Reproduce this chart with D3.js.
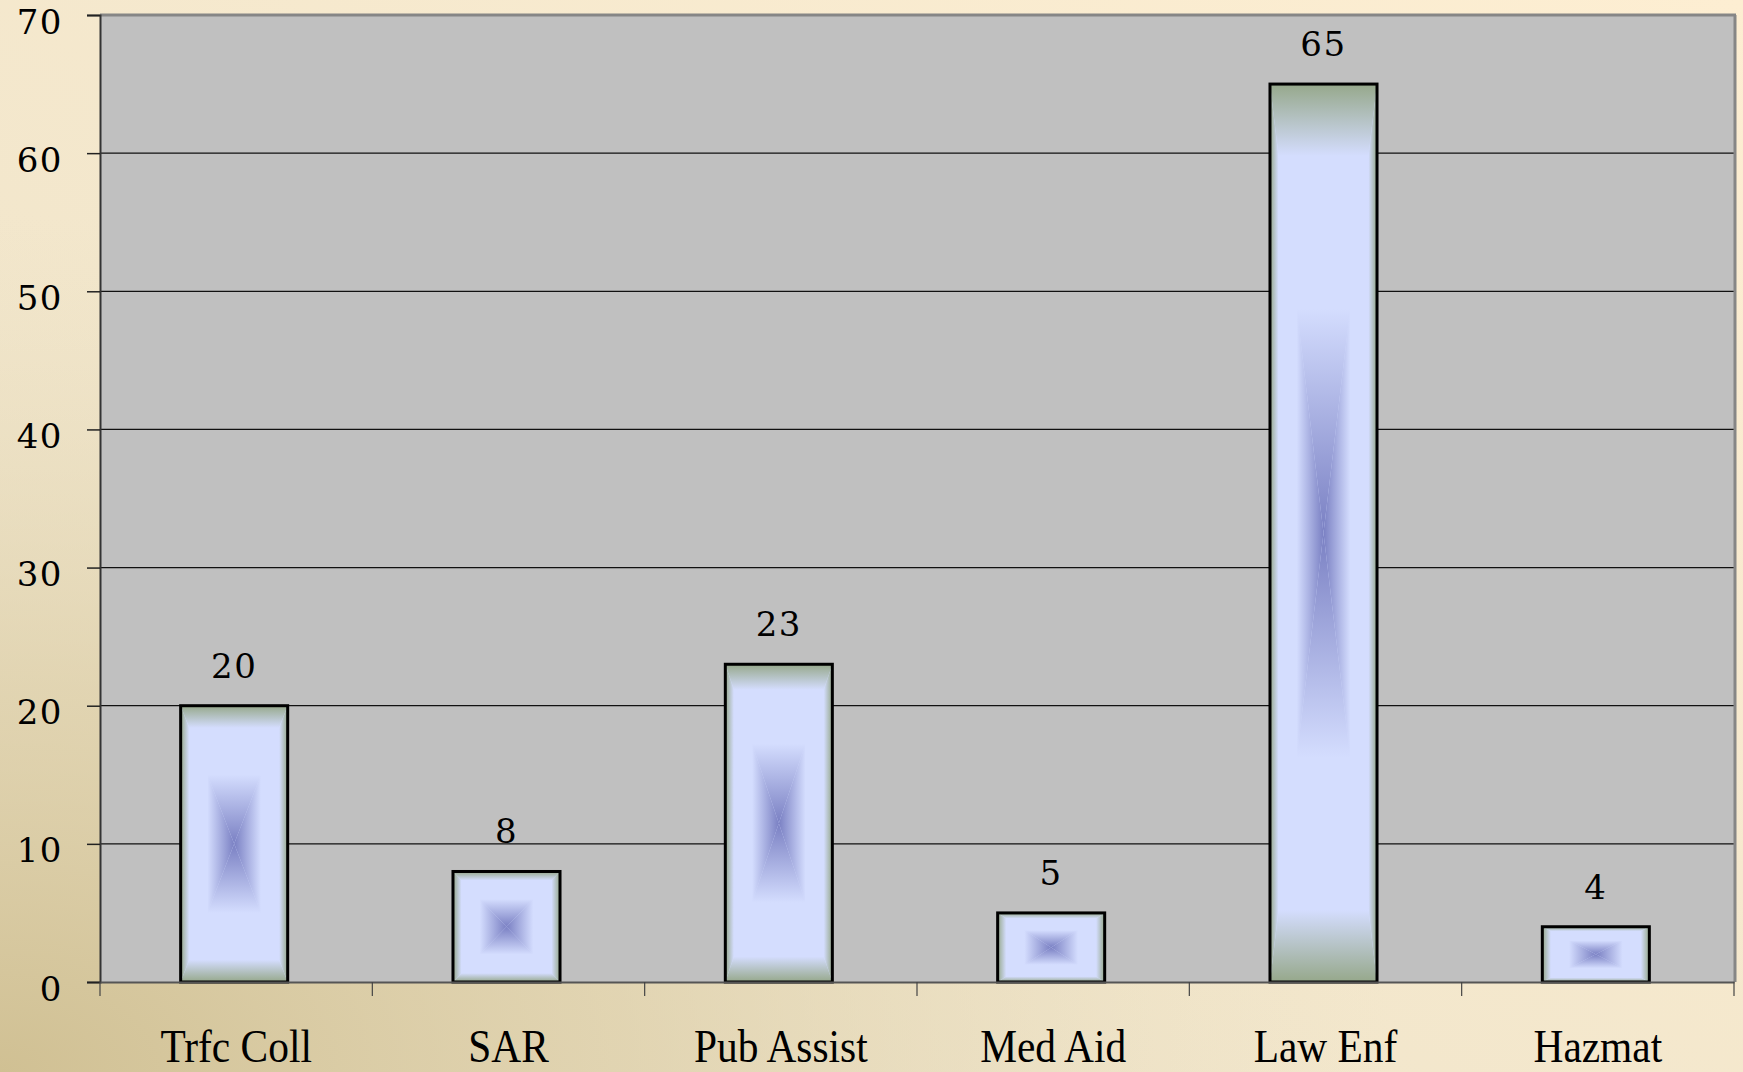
<!DOCTYPE html>
<html>
<head>
<meta charset="utf-8">
<script src="https://cdn.jsdelivr.net/npm/d3@7/dist/d3.min.js"></script>
<style>
  html, body { margin: 0; padding: 0; background: #f2ead5; }
  svg { display: block; }
</style>
</head>
<body>
<script>
const categories = ["Trfc Coll", "SAR", "Pub Assist", "Med Aid", "Law Enf", "Hazmat"];
const values = [20, 8, 23, 5, 65, 4];
const yTicks = [0, 10, 20, 30, 40, 50, 60, 70];

const W = 1743, H = 1072;
const plot = { left: 100, right: 1734, top: 15, bottom: 982 };

const svg = d3.select("body").append("svg").attr("width", W).attr("height", H);
const defs = svg.append("defs");

// Background gradients
const bgLin = defs.append("linearGradient").attr("id", "bgLin")
  .attr("x1", 0).attr("y1", 1).attr("x2", 1).attr("y2", 0);
bgLin.append("stop").attr("offset", 0).attr("stop-color", "#ece2c8");
bgLin.append("stop").attr("offset", 1).attr("stop-color", "#fdeed2");
const bgRad = defs.append("radialGradient").attr("id", "bgRad")
  .attr("cx", 0).attr("cy", 1).attr("r", 0.8).attr("fx", 0).attr("fy", 1);
bgRad.append("stop").attr("offset", 0).attr("stop-color", "#d0c093").attr("stop-opacity", 1);
bgRad.append("stop").attr("offset", 0.45).attr("stop-color", "#dacca5").attr("stop-opacity", 0.65);
bgRad.append("stop").attr("offset", 1).attr("stop-color", "#e6dcbf").attr("stop-opacity", 0);

svg.append("rect").attr("width", W).attr("height", H).attr("fill", "url(#bgLin)");
svg.append("rect").attr("width", W).attr("height", H).attr("fill", "url(#bgRad)");

// Bar "from center" rectangular gradient, built from 4 triangles
const stops = [
  [0, "#7a80c3"], [0.5, "#d4ddfe"], [0.84, "#d4ddfe"], [1, "#96a88b"]
];
const dirs = {
  gTop:    [0, 1, 0, 0],
  gBottom: [0, 0, 0, 1],
  gLeft:   [1, 0, 0, 0],
  gRight:  [0, 0, 1, 0]
};
Object.entries(dirs).forEach(([id, [x1, y1, x2, y2]]) => {
  const g = defs.append("linearGradient").attr("id", id)
    .attr("x1", x1).attr("y1", y1).attr("x2", x2).attr("y2", y2);
  stops.forEach(([o, c]) => g.append("stop").attr("offset", o).attr("stop-color", c));
});

// Scales
const slot = d3.scaleBand().domain(categories).range([plot.left, plot.right]).padding(0);
const barFrac = 0.393;
const barW = slot.bandwidth() * barFrac;
const barShift = -2;
const y = d3.scaleLinear().domain([0, 70]).range([plot.bottom, plot.top]);

// Plot background
svg.append("rect")
  .attr("x", plot.left).attr("y", y(70))
  .attr("width", plot.right - plot.left).attr("height", y(0) - y(70))
  .attr("fill", "#c0c0c0");

// Gridlines
svg.append("g").selectAll("line").data(yTicks.filter(d => d > 0 && d < 70)).join("line")
  .attr("x1", plot.left).attr("x2", plot.right)
  .attr("y1", d => y(d)).attr("y2", d => y(d))
  .attr("stroke", "#111").attr("stroke-width", 1.3);

// Top & right border (shadow-like)
svg.append("line").attr("x1", plot.left).attr("x2", plot.right + 2)
  .attr("y1", y(70)).attr("y2", y(70)).attr("stroke", "#868686").attr("stroke-width", 3);
svg.append("line").attr("x1", plot.right + 1).attr("x2", plot.right + 1)
  .attr("y1", y(70)).attr("y2", y(0)).attr("stroke", "#868686").attr("stroke-width", 3);

// Bars
const bars = svg.append("g").selectAll("g").data(categories.map((c, i) => ({ c, v: values[i] }))).join("g");
bars.each(function (d) {
  const g = d3.select(this);
  const x0 = slot(d.c) + (slot.bandwidth() - barW) / 2 + barShift;
  const x1 = x0 + barW;
  const y0 = y(d.v), y1 = y(0);
  const cx = (x0 + x1) / 2, cy = (y0 + y1) / 2;
  g.append("rect").attr("x", x0).attr("y", y0).attr("width", barW).attr("height", y1 - y0).attr("fill", "#d4ddfe");
  const tri = (pts, fill) => g.append("polygon")
    .attr("points", pts.map(p => p.join(",")).join(" "))
    .attr("fill", fill);
  tri([[x0, y1], [x1, y1], [cx, cy]], "url(#gBottom)");
  tri([[x0, y0], [x1, y0], [cx, cy]], "url(#gTop)");
  tri([[x0, y0], [x0, y1], [cx, cy]], "url(#gLeft)");
  tri([[x1, y0], [x1, y1], [cx, cy]], "url(#gRight)");
  g.append("rect").attr("x", x0).attr("y", y0).attr("width", barW).attr("height", y1 - y0)
    .attr("fill", "none").attr("stroke", "#000").attr("stroke-width", 3);
  g.append("text")
    .attr("x", cx).attr("y", y0 - 28)
    .attr("text-anchor", "middle")
    .attr("font-family", "'DejaVu Serif', serif")
    .attr("font-size", 34).attr("letter-spacing", 1.5)
    .attr("fill", "#000")
    .text(d.v);
});

// Y axis
const yAxis = svg.append("g").attr("transform", `translate(${plot.left},0)`)
  .call(d3.axisLeft(y).tickValues(yTicks).tickSize(13).tickPadding(24).tickFormat(d3.format("d")));
yAxis.select(".domain").attr("stroke", "#333").attr("stroke-width", 2);
yAxis.selectAll(".tick line").attr("stroke", "#222").attr("stroke-width", 1.5);
yAxis.selectAll(".tick text")
  .attr("font-family", "'DejaVu Serif', serif").attr("font-size", 34)
  .attr("letter-spacing", 1.5)
  .attr("fill", "#000").attr("dy", null).attr("y", 18);

// X axis
const xAxis = svg.append("g").attr("transform", `translate(0,${plot.bottom})`)
  .call(d3.axisBottom(slot).tickSize(0).tickPadding(0));
xAxis.select(".domain").attr("stroke", "#555").attr("stroke-width", 2);
xAxis.selectAll(".tick text")
  .attr("font-family", "'Liberation Serif', 'Times New Roman', serif")
  .attr("font-size", 46).attr("fill", "#000")
  .attr("dy", null).attr("y", 80)
  .attr("transform", "scale(0.9,1)");

// Category boundary ticks
const bounds = categories.map(c => slot(c)).concat([plot.right]);
svg.append("g").selectAll("line").data(bounds).join("line")
  .attr("x1", d => d).attr("x2", d => d)
  .attr("y1", y(0)).attr("y2", y(0) + 14)
  .attr("stroke", "#444").attr("stroke-width", 1.2);
</script>
</body>
</html>
